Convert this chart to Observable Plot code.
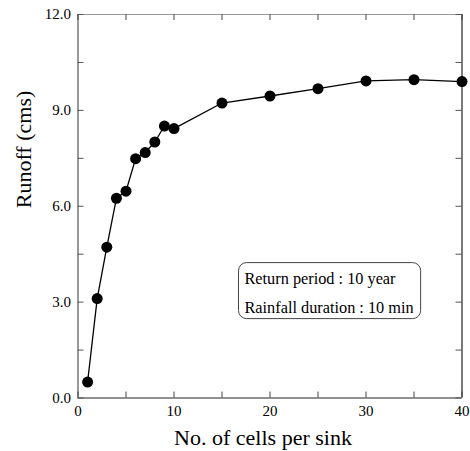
<!DOCTYPE html>
<html>
<head>
<meta charset="utf-8">
<script src="https://cdn.jsdelivr.net/npm/d3@7"></script>
<script src="https://cdn.jsdelivr.net/npm/@observablehq/plot@0.6"></script>
<style>
  html, body { margin: 0; padding: 0; background: #fff; }
  #chart { width: 470px; height: 451px; }
</style>
</head>
<body>
<div id="chart"></div>
<script>
// ---- data ----
const cellsPerSink = [1, 2, 3, 4, 5, 6, 7, 8, 9, 10, 15, 20, 25, 30, 35, 40];
const runoff = [0.50, 3.11, 4.72, 6.25, 6.47, 7.49, 7.68, 8.01, 8.51, 8.43, 9.23, 9.45, 9.68, 9.92, 9.96, 9.90];
const xDomain = [0, 40];
const yDomain = [0, 12];
const xTicks = [0, 5, 10, 15, 20, 25, 30, 35, 40];
const xTickLabels = [0, 10, 20, 30, 40];
const yTicks = [0, 1.5, 3, 4.5, 6, 7.5, 9, 10.5, 12];
const yTickLabels = [0, 3, 6, 9, 12];
const xTitle = "No. of cells per sink";
const yTitle = "Runoff (cms)";
const noteLines = ["Return period : 10 year", "Rainfall duration : 10 min"];

const data = cellsPerSink.map((x, i) => ({x, y: runoff[i]}));

const W = 470, H = 451;
const mL = 77.5, mR = 8.5, mT = 14, mB = 53.5;
const pw = W - mL - mR, ph = H - mT - mB;
const tk = 6;
const font = "'Liberation Serif', 'Times New Roman', serif";

const chart = Plot.plot({
  width: W, height: H,
  marginLeft: mL, marginRight: mR, marginTop: mT, marginBottom: mB,
  style: {fontFamily: font, fontSize: "15px", color: "#000", background: "#fff"},
  x: {domain: xDomain, axis: null},
  y: {domain: yDomain, axis: null},
  marks: [
    // frame edges
    Plot.ruleY([yDomain[1]], {stroke: "#999", strokeWidth: 1.2}),
    Plot.ruleX([xDomain[0]], {stroke: "#555", strokeWidth: 1.2}),
    Plot.ruleX([xDomain[1]], {stroke: "#222", strokeWidth: 1.2}),
    Plot.ruleY([yDomain[0]], {stroke: "#222", strokeWidth: 1.2}),
    // inward ticks
    Plot.tickX(xTicks, {x: d => d, insetTop: ph - tk, stroke: "#444"}),
    Plot.tickX(xTicks, {x: d => d, insetBottom: ph - tk, stroke: "#444"}),
    Plot.tickY(yTicks, {y: d => d, insetRight: pw - tk, stroke: "#555"}),
    Plot.tickY(yTicks, {y: d => d, insetLeft: pw - tk, stroke: "#555"}),
    // tick labels
    Plot.axisX(xTickLabels, {tickSize: 0, tickPadding: 7, label: null, fontSize: 15, tickFormat: d3.format("d")}),
    Plot.axisY(yTickLabels, {tickSize: 0, tickPadding: 7, label: null, fontSize: 15, tickFormat: d3.format(".1f")}),
    // data
    Plot.line(data, {x: "x", y: "y", stroke: "#000", strokeWidth: 1.3}),
    Plot.dot(data, {x: "x", y: "y", r: 5.5, fill: "#000", stroke: "none"}),
    // axis titles
    Plot.text([xTitle], {text: d => d, frameAnchor: "bottom", lineAnchor: "bottom", dx: -7, dy: 47.3, fontSize: 22, fill: "#000"}),
    Plot.text([yTitle], {text: d => d, frameAnchor: "left", lineAnchor: "bottom", rotate: -90, dx: -47.5, dy: 2, fontSize: 22, fill: "#000"}),
    // annotation
    Plot.text([noteLines[0]], {text: d => d, frameAnchor: "bottom-left", textAnchor: "start", lineAnchor: "bottom", dx: 166.5, dy: -114.4, fontSize: 16.3, fill: "#000", className: "note"}),
    Plot.text([noteLines[1]], {text: d => d, frameAnchor: "bottom-left", textAnchor: "start", lineAnchor: "bottom", dx: 166.5, dy: -85.4, fontSize: 16.3, fill: "#000", className: "note"})
  ]
});

document.getElementById("chart").appendChild(chart);

// rounded box around the annotation
const notes = chart.querySelectorAll(".note text");
if (notes.length) {
  let x0 = Infinity, y0 = Infinity, x1 = -Infinity, y1 = -Infinity;
  const s = chart.getScreenCTM().inverse();
  notes.forEach(t => {
    const b = t.getBBox();
    const p0 = chart.createSVGPoint(); p0.x = b.x; p0.y = b.y;
    const p1 = chart.createSVGPoint(); p1.x = b.x + b.width; p1.y = b.y + b.height;
    const q0 = p0.matrixTransform(t.getScreenCTM()).matrixTransform(s);
    const q1 = p1.matrixTransform(t.getScreenCTM()).matrixTransform(s);
    x0 = Math.min(x0, q0.x); y0 = Math.min(y0, q0.y);
    x1 = Math.max(x1, q1.x); y1 = Math.max(y1, q1.y);
  });
  d3.select(chart).append("rect")
    .attr("x", x0 - 6).attr("y", y0 - 6)
    .attr("width", x1 - x0 + 13).attr("height", y1 - y0 + 8)
    .attr("rx", 8).attr("ry", 8)
    .attr("fill", "none").attr("stroke", "#444").attr("stroke-width", 1);
}
</script>
</body>
</html>
